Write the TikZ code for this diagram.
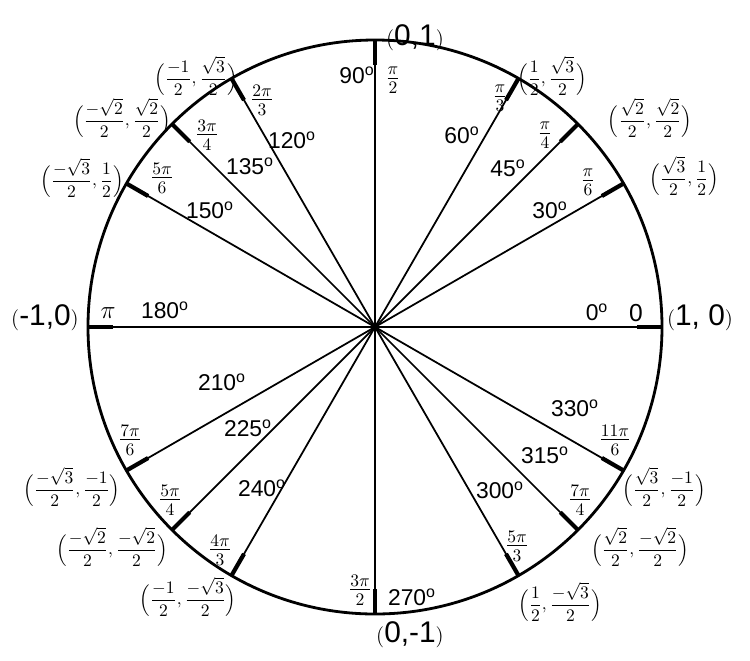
\documentclass[tikz,border=0pt]{standalone}
\usepackage{amsmath}
\usepackage{fontspec}
\setmainfont{Liberation Sans}
\setsansfont{Liberation Sans}
\usetikzlibrary{calc}

\begin{document}
\begin{tikzpicture}[
        x=0.02cm, y=-0.02cm,
        deg/.style={font=\fontsize{13}{15}\selectfont},
        rad/.style={font=\fontsize{14}{16}\selectfont, inner sep=1pt},
        pt/.style={font=\fontsize{10}{12}\selectfont, inner sep=0pt},
        axispt/.style={font=\fontsize{17}{19}\selectfont, inner sep=0pt},
        spoke/.style={draw, line width=1pt},
        tick/.style={draw, line width=2.4pt}
    ]
    \useasboundingbox (0,0) rectangle (750,660);

    % Circle and center
    \coordinate (o) at (375,327);
    \draw [line width=1.6pt] (o) circle [radius=287];

    % Spokes (polar in flipped y, so use -angle)
    \foreach \a in {0,30,45,60,90,120,135,150,180,210,225,240,270,300,315,330} {
        \coordinate (p\a) at ($(o)+(-\a:287)$);
        \coordinate (q\a) at ($(o)+(-\a:262)$);
        \path [spoke] (o) -- (p\a);
        \path [tick] (q\a) -- (p\a);
    }

    % Degree labels
    \foreach \d/\x/\y in {90/357/75, 120/292/140, 135/250/166, 150/210/210,
        180/165/310, 0/597/312, 30/550/210, 45/508/168, 60/462/135,
        210/222/382, 225/248/428, 240/262/488, 270/412/597,
        300/500/490, 315/545/455, 330/575/408}
        \node [deg] (d\d) at (\x,\y) {\d$^{\text{o}}$};

    % Radian labels
    \node [rad] (r90) at (393,80) {$\frac{\pi}{2}$};
    \node [rad] (r120) at (262,100) {$\frac{2\pi}{3}$};
    \node [rad] (r135) at (207,135) {$\frac{3\pi}{4}$};
    \node [rad] (r150) at (162,178) {$\frac{5\pi}{6}$};
    \node [rad] (r180) at (108,313) {$\pi$};
    \node [rad] (r0) at (636,313) {0};
    \node [rad] (r30) at (588,182) {$\frac{\pi}{6}$};
    \node [rad] (r45) at (545,135) {$\frac{\pi}{4}$};
    \node [rad] (r60) at (500,98) {$\frac{\pi}{3}$};
    \node [rad] (r210) at (130,440) {$\frac{7\pi}{6}$};
    \node [rad] (r225) at (170,500) {$\frac{5\pi}{4}$};
    \node [rad] (r240) at (220,550) {$\frac{4\pi}{3}$};
    \node [rad] (r270) at (360,590) {$\frac{3\pi}{2}$};
    \node [rad] (r300) at (517,546) {$\frac{5\pi}{3}$};
    \node [rad] (r315) at (580,500) {$\frac{7\pi}{4}$};
    \node [rad] (r330) at (615,440) {$\frac{11\pi}{6}$};

    % Coordinates
    \node [axispt] (c90) at (415,38) {$\scriptstyle($0,1$\scriptstyle)$};
    \node [axispt] (c0) at (700,318) {$\scriptstyle($1, 0$\scriptstyle)$};
    \node [axispt] (c270) at (410,635) {$\scriptstyle($0,-1$\scriptstyle)$};
    \node [axispt] (c180) at (45,318) {$\scriptstyle($-1,0$\scriptstyle)$};
    \node [pt] (c60) at (552,76) {$\boldsymbol{\Big(}\dfrac{1}{2},\dfrac{\sqrt{3}}{2}\boldsymbol{\Big)}$};
    \node [pt] (c45) at (650,118) {$\boldsymbol{\Big(}\dfrac{\sqrt{2}}{2},\dfrac{\sqrt{2}}{2}\boldsymbol{\Big)}$};
    \node [pt] (c30) at (684,176) {$\boldsymbol{\Big(}\dfrac{\sqrt{3}}{2},\dfrac{1}{2}\boldsymbol{\Big)}$};
    \node [pt] (c330) at (664,487) {$\boldsymbol{\Big(}\dfrac{\sqrt{3}}{2},\dfrac{-1}{2}\boldsymbol{\Big)}$};
    \node [pt] (c315) at (640,547) {$\boldsymbol{\Big(}\dfrac{\sqrt{2}}{2},\dfrac{-\sqrt{2}}{2}\boldsymbol{\Big)}$};
    \node [pt] (c300) at (560,602) {$\boldsymbol{\Big(}\dfrac{1}{2},\dfrac{-\sqrt{3}}{2}\boldsymbol{\Big)}$};
    \node [pt] (c240) at (188,597) {$\boldsymbol{\Big(}\dfrac{-1}{2},\dfrac{-\sqrt{3}}{2}\boldsymbol{\Big)}$};
    \node [pt] (c225) at (112,547) {$\boldsymbol{\Big(}\dfrac{-\sqrt{2}}{2},\dfrac{-\sqrt{2}}{2}\boldsymbol{\Big)}$};
    \node [pt] (c210) at (72,487) {$\boldsymbol{\Big(}\dfrac{-\sqrt{3}}{2},\dfrac{-1}{2}\boldsymbol{\Big)}$};
    \node [pt] (c150) at (82,178) {$\boldsymbol{\Big(}\dfrac{-\sqrt{3}}{2},\dfrac{1}{2}\boldsymbol{\Big)}$};
    \node [pt] (c135) at (122,118) {$\boldsymbol{\Big(}\dfrac{-\sqrt{2}}{2},\dfrac{\sqrt{2}}{2}\boldsymbol{\Big)}$};
    \node [pt] (c120) at (196,76) {$\boldsymbol{\Big(}\dfrac{-1}{2},\dfrac{\sqrt{3}}{2}\boldsymbol{\Big)}$};

\end{tikzpicture}
\end{document}
